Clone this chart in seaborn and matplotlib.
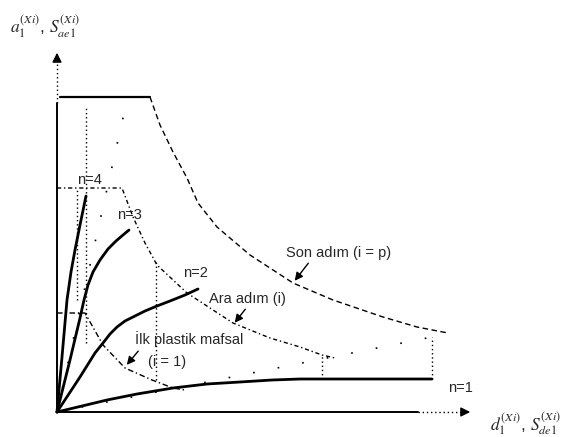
import matplotlib
matplotlib.use("Agg")
import matplotlib.pyplot as plt
import seaborn as sns
import pandas as pd

# ---- data (x = displacement, y = acceleration, arbitrary units) ----
son_plateau_x = [3, 93]
son_plateau_y = [315, 315]
son_x = [93, 103, 116, 130, 141, 160, 193, 236, 276, 326, 360, 391]
son_y = [315, 287, 260, 234, 209, 185, 157, 129, 112, 95, 85, 79]

ara_x = [0, 65, 76, 88, 100, 130, 176, 213, 243, 265, 278]
ara_y = [224, 224, 195, 169, 147, 119, 89, 74, 65, 57, 54]

ilk_x = [0, 28, 46, 68, 95, 116, 128]
ilk_y = [99, 99, 67, 44, 32, 24, 22]

n4_x = [0, 5, 10, 14, 18, 23, 29]
n4_y = [0, 55, 112, 140, 162, 187, 216]
n3_x = [0, 13, 23, 27, 31, 36, 43, 51, 59, 66, 72]
n3_y = [0, 52, 94, 112, 127, 140, 152, 163, 171, 177, 182]
n2_x = [0, 23, 38, 46, 53, 60, 68, 78, 88, 100, 113, 128, 141]
n2_y = [0, 35, 59, 69, 78, 85, 91, 96, 101, 106, 111, 117, 123]
n1_x = [0, 25, 50, 80, 116, 150, 183, 215, 243, 375]
n1_y = [0, 6, 12, 18, 24, 28, 30, 32, 33, 33]

curve_labels = ["n=4", "n=3", "n=2", "n=1"]
spectrum_labels = ["Son adım (i = p)", "Ara adım (i)", "İlk plastik mafsal", "(i = 1)"]

sns.set_theme(style="white")
plt.rcParams['font.family'] = ['Liberation Sans', 'DejaVu Sans']
plt.rcParams['mathtext.fontset'] = 'stix'

fig = plt.figure(figsize=(5.73, 4.37), dpi=100)
ax = fig.add_axes([0, 0, 1, 1])
ax.set_xlim(-57, 516)
ax.set_ylim(-25, 412)
ax.axis('off')

def draw(x, y, **kw):
    df = pd.DataFrame({"x": x, "y": y})
    sns.lineplot(data=df, x="x", y="y", sort=False, estimator=None, ax=ax, **kw)

# capacity curves
for xs, ys in [(n4_x, n4_y), (n3_x, n3_y), (n2_x, n2_y), (n1_x, n1_y)]:
    draw(xs, ys, color="black", lw=2.0)

# demand spectra
draw(son_plateau_x, son_plateau_y, color="black", lw=1.6)
draw(son_x, son_y, color="black", lw=1.0, linestyle=(0, (4, 2.5)))
draw(ara_x, ara_y, color="black", lw=1.0, linestyle=(0, (3, 2, 1, 2)))
draw(ilk_x, ilk_y, color="black", lw=1.0, linestyle=(0, (4, 2, 1, 2)))

# dotted guide lines
dot = dict(color="black", lw=1.0, linestyle=(0, (1, 2)))
draw([29, 29], [69, 305], **dot)
draw([20, 20], [112, 222], **dot)
draw([99, 99], [32, 150], **dot)
draw([265, 265], [33, 57], **dot)
draw([375, 375], [33, 75], **dot)
sparse = dict(color="black", lw=1.2, linestyle=(0, (1, 14)))
draw([0, 70], [0, 312], **sparse)
draw([0, 375], [0, 75], **sparse)

# axes with arrows
draw([0, 0], [0, 309], color="black", lw=1.4)
draw([0, 0], [309, 352], color="black", lw=1.0, linestyle=(0, (1, 2)))
draw([0, 361], [0, 0], color="black", lw=1.4)
draw([361, 405], [0, 0], color="black", lw=1.0, linestyle=(0, (1, 2)))
ax.annotate("", xy=(0, 362), xytext=(0, 350),
            arrowprops=dict(arrowstyle="-|>", color="black", lw=1, mutation_scale=14))
ax.annotate("", xy=(416, 0), xytext=(403, 0),
            arrowprops=dict(arrowstyle="-|>", color="black", lw=1, mutation_scale=14))

# labels on curves
fs = 10.5
ax.text(32, 232, curve_labels[0], ha="center", va="center", fontsize=fs)
ax.text(72, 197, curve_labels[1], ha="center", va="center", fontsize=fs)
ax.text(138, 139, curve_labels[2], ha="center", va="center", fontsize=fs)
ax.text(403, 24, curve_labels[3], ha="center", va="center", fontsize=fs)
ax.text(282, 159, spectrum_labels[0], ha="center", va="center", fontsize=fs)
ax.text(190, 113, spectrum_labels[1], ha="center", va="center", fontsize=fs)
ax.text(132, 73, spectrum_labels[2], ha="center", va="center", fontsize=fs)
ax.text(110, 50, spectrum_labels[3], ha="center", va="center", fontsize=fs)

arr = dict(arrowstyle="-|>", color="black", lw=1.0, mutation_scale=12)
ax.annotate("", xy=(236, 129), xytext=(253, 151), arrowprops=arr)
ax.annotate("", xy=(176, 87), xytext=(190, 105), arrowprops=arr)
ax.annotate("", xy=(68, 45), xytext=(83, 63), arrowprops=arr)

# axis titles
ax.text(-47, 385, r"$a_1^{(Xi)}$, $S_{ae1}^{(Xi)}$", ha="left", va="center", fontsize=12.5)
ax.text(433, -12, r"$d_1^{(Xi)}$, $S_{de1}^{(Xi)}$", ha="left", va="center", fontsize=12.5)

fig.savefig("out.png", dpi=100)
